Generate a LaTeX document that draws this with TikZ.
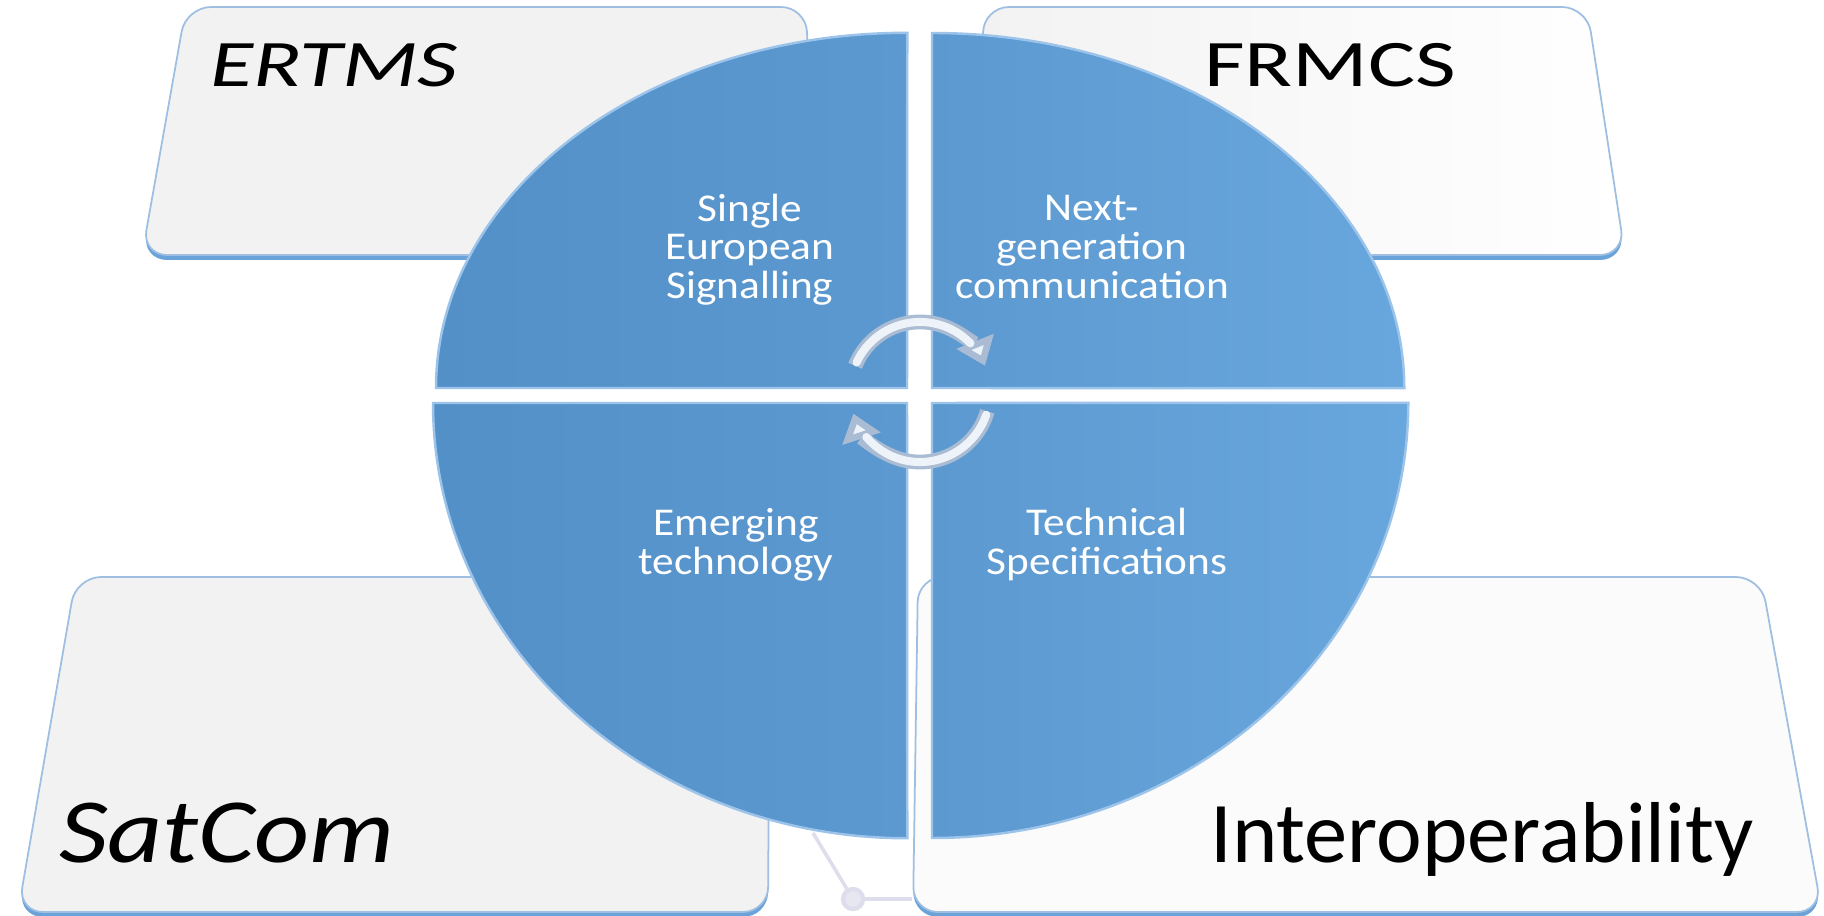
\documentclass[tikz,border=0pt]{standalone}
\usepackage{fontspec}
\setmainfont{Carlito}
\usetikzlibrary{arrows.meta, calc}

\definecolor{wedgedark}{HTML}{5490C8}
\definecolor{wedgemid}{HTML}{5C99D0}
\definecolor{wedgelight}{HTML}{68A7DD}
\definecolor{wedgerim}{HTML}{9CC4EA}
\definecolor{cardgray}{HTML}{F2F2F2}
\definecolor{cardwhite}{HTML}{FBFBFB}
\definecolor{cardedge}{HTML}{9FBFE2}
\definecolor{cardrim}{HTML}{6AA3DA}
\definecolor{tubedark}{HTML}{A9BCD3}
\definecolor{tubelight}{HTML}{EEF3F9}
\definecolor{netline}{HTML}{DDDDEC}

\newcommand{\stretchtext}[2]{\scalebox{#1}[1]{#2}}
\newcommand{\wedgelines}[1]{\scalebox{1.1}[1]{\begin{tabular}{@{}c@{}}#1\end{tabular}}}

\begin{document}
\begin{tikzpicture}[
    x=0.01cm, y=0.01cm,
    card/.style={draw=cardedge, line width=0.5pt, rounded corners=2.5mm},
    cardrimfill/.style={fill=cardrim, rounded corners=2.5mm},
    quarter/.style={draw=wedgerim, line width=0.7pt},
    bigtext/.style={inner sep=0pt, anchor=base, text=black},
    wedgetext/.style={inner sep=0pt, text=white, font=\fontsize{11.2}{10.9}\selectfont},
    tube/.style={line width=4.2pt, draw=tubedark, -{Triangle[width=11pt,length=7.5pt,fill=tubelight]}},
    tubeshine/.style={line width=2.3pt, draw=tubelight, line cap=round}
]
    \useasboundingbox (0,0) rectangle (1824,915);
    \fill[white] (0,0) rectangle (1824,915);

    % faint network behind the cards
    \node[circle, draw=netline, line width=1.2pt, fill=netline!70, minimum size=0.2cm, inner sep=0pt] at (853,16) (hub) {};
    \coordinate (netA) at (813,82);
    \coordinate (netB) at (912,16);
    \draw[netline, line width=1pt] (netA) -- (hub);
    \draw[netline, line width=1pt] (hub) -- (netB);

    % cards
    \fill[cardrimfill] (142,655) -- (186,903) -- (806,903) -- (816,655) -- cycle;
    \draw[card, fill=cardgray] (142,660) -- (186,908) -- (806,908) -- (816,660) -- cycle;
    \fill[cardrimfill] (975,655) -- (984,903) -- (1587,903) -- (1625,655) -- cycle;
    \draw[card, left color=cardgray, right color=white] (975,660) -- (984,908) -- (1587,908) -- (1625,660) -- cycle;
    \fill[cardrimfill] (18,-2) -- (76,333) -- (770,333) -- (768,-2) -- cycle;
    \draw[card, fill=cardgray] (18,3) -- (76,338) -- (770,338) -- (768,3) -- cycle;
    \fill[cardrimfill] (913,-2) -- (918,333) -- (1761,333) -- (1822,-2) -- cycle;
    \draw[card, fill=cardwhite] (913,3) -- (918,338) -- (1761,338) -- (1822,3) -- cycle;

    \node[bigtext, font=\fontsize{18.9}{22}\selectfont\itshape] at (334,828) (ertms) {\stretchtext{1.33}{ERTMS}};
    \node[bigtext, font=\fontsize{18.9}{22}\selectfont] at (1330,828) (frmcs) {\stretchtext{1.33}{FRMCS}};
    \node[bigtext, font=\fontsize{26.1}{30}\selectfont\itshape] at (227,52) (satcom) {\stretchtext{1.17}{SatCom}};
    \node[bigtext, font=\fontsize{24.6}{30}\selectfont] at (1482,53) (interop) {Interoperability};

    % disc quarters
    \draw[quarter, left color=wedgedark, right color=wedgemid] (907,527) -- (436,527)
        arc[start angle=180, end angle=90, x radius=4.71cm, y radius=3.55cm] -- cycle;
    \draw[quarter, left color=wedgemid, right color=wedgelight] (932,527) -- (932,882)
        arc[start angle=90, end angle=0, x radius=4.72cm, y radius=3.55cm] -- cycle;
    \draw[quarter, left color=wedgedark, right color=wedgemid] (907,512) -- (433,512)
        arc[start angle=180, end angle=270, x radius=4.74cm, y radius=4.35cm] -- cycle;
    \draw[quarter, left color=wedgemid, right color=wedgelight] (932,512) -- (932,77)
        arc[start angle=270, end angle=360, x radius=4.76cm, y radius=4.35cm] -- cycle;

    \node[wedgetext] at (750,663) (signal) {\wedgelines{Single\\European\\Signalling}};
    \node[wedgetext] at (1092,663) (comm) {\wedgelines{Next-\\generation\\communication}};
    \node[wedgetext] at (736,368) (emerge) {\wedgelines{Emerging\\technology}};
    \node[wedgetext] at (1107,368) (spec) {\wedgelines{Technical\\Specifications}};

    % cycle arrows
    \coordinate (cyc) at (920,523);
    \draw[tube] ($(cyc)+(158:70)$) arc[start angle=158, end angle=22, radius=0.7cm];
    \draw[tubeshine] ($(cyc)+(155:70)$) arc[start angle=155, end angle=44, radius=0.7cm];
    \draw[tube] ($(cyc)+(-16:70)$) arc[start angle=-16, end angle=-162, radius=0.7cm];
    \draw[tubeshine] ($(cyc)+(-19:70)$) arc[start angle=-19, end angle=-140, radius=0.7cm];
\end{tikzpicture}
\end{document}
